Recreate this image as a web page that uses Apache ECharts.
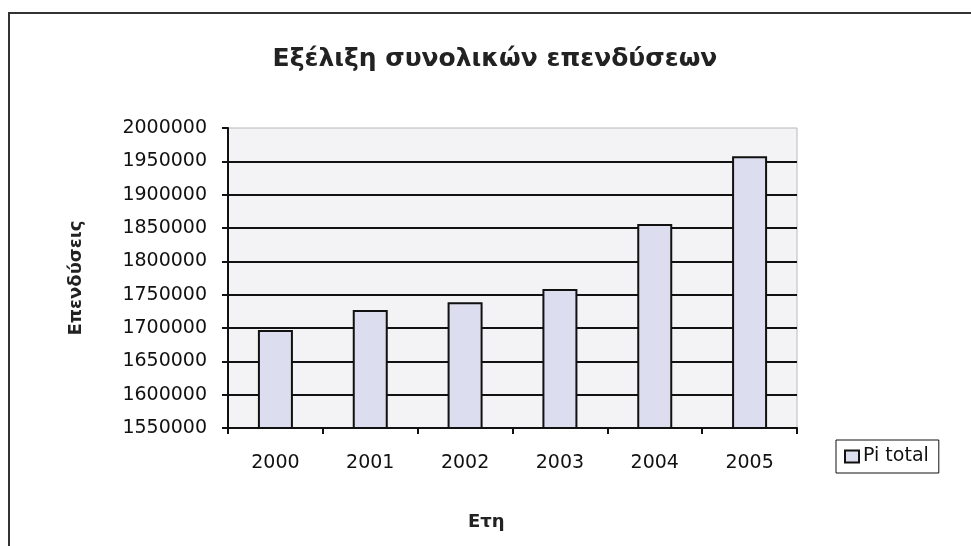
<!DOCTYPE html>
<html>
<head>
<meta charset="utf-8">
<script src="https://cdn.jsdelivr.net/npm/echarts@6/dist/echarts.min.js"></script>
<style>html,body{margin:0;padding:0;background:#fff}#c{width:971px;height:546px}</style>
</head>
<body>
<div id="c"></div>
<script>
const years = ['2000', '2001', '2002', '2003', '2004', '2005'];
const piTotal = [1697000, 1727000, 1738500, 1758500, 1856000, 1957500];
const seriesName = 'Pi total';
const titleText = 'Εξέλιξη συνολικών επενδύσεων';
const yAxisTitle = 'Επενδύσεις';
const xAxisTitle = 'Ετη';
const yMin = 1550000, yMax = 2000000, yStep = 50000;

const chart = echarts.init(document.getElementById('c'));
chart.setOption({
  animation: false,
  backgroundColor: '#ffffff',
  title: {
    text: titleText,
    left: 490, top: 42, textAlign: 'center',
    textStyle: { fontFamily: 'DejaVu Sans', fontWeight: 'bold', fontSize: 25, color: '#222' }
  },
  legend: {
    data: [seriesName],
    left: 836, top: 440,
    padding: [7, 10, 7, 8],
    borderColor: '#111', borderWidth: 1,
    itemWidth: 14, itemHeight: 12, itemGap: 4,
    icon: 'rect',
    textStyle: { fontFamily: 'DejaVu Sans', fontSize: 19, color: '#111', padding: [0, 0, 0, -1] }
  },
  grid: {
    left: 228, right: 174, top: 128, bottom: 118,
    show: true, backgroundColor: '#f3f3f5', borderColor: '#b8b8b8', borderWidth: 1
  },
  xAxis: {
    type: 'category', data: years,
    axisLine: { lineStyle: { color: '#111', width: 2 } },
    axisTick: { show: true, length: 6, lineStyle: { color: '#111', width: 2 } },
    axisLabel: { margin: 26, fontFamily: 'DejaVu Sans', fontSize: 19, color: '#111' }
  },
  yAxis: {
    type: 'value', min: yMin, max: yMax, interval: yStep,
    axisLine: { show: true, lineStyle: { color: '#111', width: 2 } },
    axisTick: { show: true, length: 6, lineStyle: { color: '#111', width: 2 } },
    axisLabel: { margin: 21, fontFamily: 'DejaVu Sans', fontSize: 19, color: '#111',
      formatter: function (v) { return String(v); } },
    splitLine: { showMaxLine: false, lineStyle: { color: '#111', width: 2 } },
    name: yAxisTitle, nameLocation: 'middle', nameGap: 143, nameRotate: 90,
    nameTextStyle: { fontFamily: 'DejaVu Sans', fontWeight: 'bold', fontSize: 18, color: '#222' }
  },
  series: [{
    name: seriesName, type: 'bar', data: piTotal, barWidth: 35,
    itemStyle: { color: '#dcddee', borderColor: '#111', borderWidth: 2 }
  }],
  graphic: [
    { type: 'polyline', silent: true, shape: { points: [[9, 546], [9, 13], [971, 13]] },
      style: { stroke: '#333', lineWidth: 2, fill: null } },
    { type: 'text', left: 468, top: 513,
      style: { text: xAxisTitle, fontFamily: 'DejaVu Sans', fontWeight: 'bold', fontSize: 18, fill: '#222' } }
  ]
});
</script>
</body>
</html>
